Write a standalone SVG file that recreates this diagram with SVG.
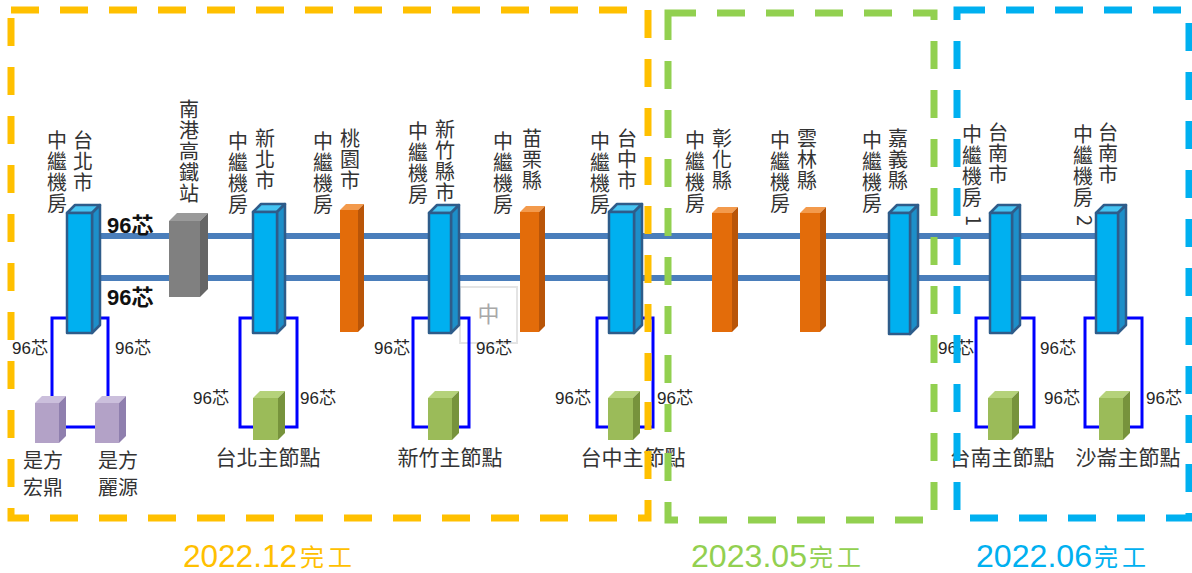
<svg xmlns="http://www.w3.org/2000/svg" width="1192" height="573" viewBox="0 0 1192 573">
<style>
.vt{font-family:"Noto Sans CJK TC","Noto Sans CJK SC",sans-serif;font-size:20px;fill:#333;writing-mode:vertical-rl;letter-spacing:1px}
.vd{font-family:"Noto Sans CJK TC",sans-serif;font-size:20px;fill:#333}
.lb{font-family:"Liberation Sans","Noto Sans CJK TC",sans-serif;font-size:17px;fill:#262626}
.bd{font-family:"Liberation Sans","Noto Sans CJK TC",sans-serif;font-size:22px;font-weight:bold;fill:#111}
.nd{font-family:"Noto Sans CJK TC",sans-serif;font-size:21px;fill:#333;text-anchor:middle}
.sf{font-family:"Noto Sans CJK TC",sans-serif;font-size:20px;fill:#333}
.trunk{stroke:#4a7ebb;stroke-width:6;fill:none}
.loop{stroke:#0000ff;stroke-width:3;fill:none}
.bf{fill:#00b0f0;stroke:#2e5c8a;stroke-width:2.5;stroke-linejoin:round}
.bs{fill:#1d8fc9;stroke:#2e5c8a;stroke-width:2.5;stroke-linejoin:round}
.bt{fill:#45c4f2;stroke:#2e5c8a;stroke-width:2.5;stroke-linejoin:round}
.of{fill:#e36c0a}.os{fill:#b95508}.ot{fill:#f39a4c}
.gf{fill:#808080}.gs{fill:#666}.gt{fill:#9a9a9a}
.nf{fill:#9bbb59}.ns{fill:#77933c}.nt{fill:#b5d27a}
.pf{fill:#b3a2c7}.ps{fill:#8f7fae}.pt{fill:#cbbfdc}
.yr{fill:none;stroke:#ffc000;stroke-width:7;stroke-dasharray:28 21}
.gr{fill:none;stroke:#92d050;stroke-width:7;stroke-dasharray:28 21}
.br{fill:none;stroke:#00b0f0;stroke-width:7;stroke-dasharray:28 21}
.yr2{font-family:"Liberation Sans",sans-serif;font-size:32px}
.cj{font-family:"Noto Sans CJK TC",sans-serif;font-size:24px;letter-spacing:4px}
</style>
<rect width="1192" height="573" fill="#fff"/>

<g id="ime-box">
  <rect x="460" y="287" width="57" height="56" fill="#fff" stroke="#e4e4e4" stroke-width="2"/>
  <text x="488.5" y="322" font-family="Noto Sans CJK TC,sans-serif" font-size="22" fill="#a8a8a8" text-anchor="middle">中</text>
</g>

<g id="connectors">
  <line class="trunk" x1="92" y1="236" x2="1105" y2="236"/>
  <line class="trunk" x1="92" y1="278" x2="1105" y2="278"/>
  <path class="loop" d="M52,403 V318 H108 V401"/>
  <line class="loop" x1="58" y1="427" x2="100" y2="427"/>
  <rect class="loop" x="240" y="318" width="57" height="109"/>
  <rect class="loop" x="413" y="318" width="56" height="109"/>
  <rect class="loop" x="597" y="318" width="56" height="109"/>
  <rect class="loop" x="976" y="318" width="58" height="109"/>
  <rect class="loop" x="1085" y="318" width="57" height="109"/>
</g>

<g id="taipei">
  <polygon class="bt" points="67,213 75,205 100,205 92,213"/>
  <polygon class="bs" points="92,213 100,205 100,325 92,333"/>
  <rect class="bf" x="67" y="213" width="25" height="120"/>
  <text class="vt" x="57" y="130">中繼機房</text>
  <text class="vt" x="83" y="130">台北市</text>
</g>
<g id="nangang">
  <polygon class="gt" points="169,221 177,213 208,213 200,221"/>
  <polygon class="gs" points="200,221 208,213 208,289 200,297"/>
  <rect class="gf" x="169" y="221" width="31" height="76"/>
  <text class="vt" x="189" y="99">南港高鐵站</text>
</g>
<g id="newtaipei">
  <polygon class="bt" points="253,212 261,204 285,204 277,212"/>
  <polygon class="bs" points="277,212 285,204 285,325 277,333"/>
  <rect class="bf" x="253" y="212" width="24" height="121"/>
  <text class="vt" x="238" y="131">中繼機房</text>
  <text class="vt" x="265" y="128">新北市</text>
</g>
<g id="taoyuan">
  <polygon class="ot" points="340,210 346,204 364,204 358,210"/>
  <polygon class="os" points="358,210 364,204 364,326 358,332"/>
  <rect class="of" x="340" y="210" width="18" height="122"/>
  <text class="vt" x="323" y="131">中繼機房</text>
  <text class="vt" x="350" y="128">桃園市</text>
</g>
<g id="hsinchu">
  <polygon class="bt" points="429,213 437,205 459,205 451,213"/>
  <polygon class="bs" points="451,213 459,205 459,325 451,333"/>
  <rect class="bf" x="429" y="213" width="22" height="120"/>
  <text class="vt" x="418" y="121">中繼機房</text>
  <text class="vt" x="445" y="119">新竹縣市</text>
</g>
<g id="miaoli">
  <polygon class="ot" points="520,212 526,206 545,206 539,212"/>
  <polygon class="os" points="539,212 545,206 545,326 539,332"/>
  <rect class="of" x="520" y="212" width="19" height="120"/>
  <text class="vt" x="503" y="131">中繼機房</text>
  <text class="vt" x="532" y="128">苗栗縣</text>
</g>
<g id="taichung">
  <polygon class="bt" points="609,212 617,204 642,204 634,212"/>
  <polygon class="bs" points="634,212 642,204 642,325 634,333"/>
  <rect class="bf" x="609" y="212" width="25" height="121"/>
  <text class="vt" x="600" y="131">中繼機房</text>
  <text class="vt" x="627" y="128">台中市</text>
</g>
<g id="changhua">
  <polygon class="ot" points="712,213 718,207 738,207 732,213"/>
  <polygon class="os" points="732,213 738,207 738,326 732,332"/>
  <rect class="of" x="712" y="213" width="20" height="119"/>
  <text class="vt" x="695" y="130">中繼機房</text>
  <text class="vt" x="722" y="128">彰化縣</text>
</g>
<g id="yunlin">
  <polygon class="ot" points="800,213 806,207 826,207 820,213"/>
  <polygon class="os" points="820,213 826,207 826,326 820,332"/>
  <rect class="of" x="800" y="213" width="20" height="119"/>
  <text class="vt" x="780" y="130">中繼機房</text>
  <text class="vt" x="807" y="128">雲林縣</text>
</g>
<g id="chiayi">
  <polygon class="bt" points="889,213 897,205 918,205 910,213"/>
  <polygon class="bs" points="910,213 918,205 918,326 910,334"/>
  <rect class="bf" x="889" y="213" width="21" height="121"/>
  <text class="vt" x="872" y="130">中繼機房</text>
  <text class="vt" x="898" y="128">嘉義縣</text>
</g>
<g id="tainan1">
  <polygon class="bt" points="990,213 998,205 1020,205 1012,213"/>
  <polygon class="bs" points="1012,213 1020,205 1020,325 1012,333"/>
  <rect class="bf" x="990" y="213" width="22" height="120"/>
  <text class="vt" x="972" y="124">中繼機房</text>
  <text class="vd" transform="translate(966,215) rotate(90)">1</text>
  <text class="vt" x="998" y="122">台南市</text>
</g>
<g id="tainan2">
  <polygon class="bt" points="1096,213 1104,205 1126,205 1118,213"/>
  <polygon class="bs" points="1118,213 1126,205 1126,325 1118,333"/>
  <rect class="bf" x="1096" y="213" width="22" height="120"/>
  <text class="vt" x="1083" y="124">中繼機房</text>
  <text class="vd" transform="translate(1077,215) rotate(90)">2</text>
  <text class="vt" x="1108" y="122">台南市</text>
</g>

<g id="shifang-hongding">
  <polygon class="pt" points="35,403 42,396 66,396 59,403"/>
  <polygon class="ps" points="59,403 66,396 66,436 59,443"/>
  <rect class="pf" x="35" y="403" width="24" height="40"/>
  <text class="sf" x="23" y="468">是方</text>
  <text class="sf" x="23" y="495">宏鼎</text>
</g>
<g id="shifang-liyuan">
  <polygon class="pt" points="95,403 102,396 126,396 119,403"/>
  <polygon class="ps" points="119,403 126,396 126,436 119,443"/>
  <rect class="pf" x="95" y="403" width="24" height="40"/>
  <text class="sf" x="98" y="468">是方</text>
  <text class="sf" x="98" y="495">麗源</text>
</g>
<g id="taipei-main">
  <polygon class="nt" points="253,398 260,391 285,391 278,398"/>
  <polygon class="ns" points="278,398 285,391 285,433 278,440"/>
  <rect class="nf" x="253" y="398" width="25" height="42"/>
  <text class="nd" x="268" y="465">台北主節點</text>
</g>
<g id="hsinchu-main">
  <polygon class="nt" points="428,398 435,391 459,391 452,398"/>
  <polygon class="ns" points="452,398 459,391 459,433 452,440"/>
  <rect class="nf" x="428" y="398" width="24" height="42"/>
  <text class="nd" x="450" y="465">新竹主節點</text>
</g>
<g id="taichung-main">
  <polygon class="nt" points="608,398 615,391 640,391 633,398"/>
  <polygon class="ns" points="633,398 640,391 640,433 633,440"/>
  <rect class="nf" x="608" y="398" width="25" height="42"/>
  <text class="nd" x="633" y="465">台中主節點</text>
</g>
<g id="tainan-main">
  <polygon class="nt" points="988,398 995,391 1019,391 1012,398"/>
  <polygon class="ns" points="1012,398 1019,391 1019,433 1012,440"/>
  <rect class="nf" x="988" y="398" width="24" height="42"/>
  <text class="nd" x="1002" y="465">台南主節點</text>
</g>
<g id="shalun-main">
  <polygon class="nt" points="1099,398 1106,391 1130,391 1123,398"/>
  <polygon class="ns" points="1123,398 1130,391 1130,433 1123,440"/>
  <rect class="nf" x="1099" y="398" width="24" height="42"/>
  <text class="nd" x="1128" y="465">沙崙主節點</text>
</g>

<g id="labels">
  <text class="bd" x="107" y="233">96芯</text>
  <text class="bd" x="107" y="305">96芯</text>
  <text class="lb" x="12" y="354">96芯</text>
  <text class="lb" x="115" y="354">96芯</text>
  <text class="lb" x="193" y="404">96芯</text>
  <text class="lb" x="300" y="404">96芯</text>
  <text class="lb" x="374" y="354">96芯</text>
  <text class="lb" x="476" y="354">96芯</text>
  <text class="lb" x="555" y="404">96芯</text>
  <text class="lb" x="657" y="404">96芯</text>
  <text class="lb" x="938" y="354">96芯</text>
  <text class="lb" x="1040" y="354">96芯</text>
  <text class="lb" x="1044" y="404">96芯</text>
  <text class="lb" x="1146" y="404">96芯</text>
</g>

<g id="phases">
  <rect class="yr" x="11" y="10" width="637" height="508"/>
  <rect class="gr" x="668" y="13" width="266" height="507"/>
  <rect class="br" x="957" y="10" width="232" height="508"/>
  <text class="yr2" x="183" y="567" fill="#ffc000" textLength="114" lengthAdjust="spacingAndGlyphs">2022.12</text>
  <text class="cj" x="300" y="566" fill="#ffc000">完工</text>
  <text class="yr2" x="691" y="567" fill="#92d050" textLength="116" lengthAdjust="spacingAndGlyphs">2023.05</text>
  <text class="cj" x="809" y="566" fill="#92d050">完工</text>
  <text class="yr2" x="976" y="567" fill="#00b0f0" textLength="116" lengthAdjust="spacingAndGlyphs">2022.06</text>
  <text class="cj" x="1094" y="566" fill="#00b0f0">完工</text>
</g>
</svg>
